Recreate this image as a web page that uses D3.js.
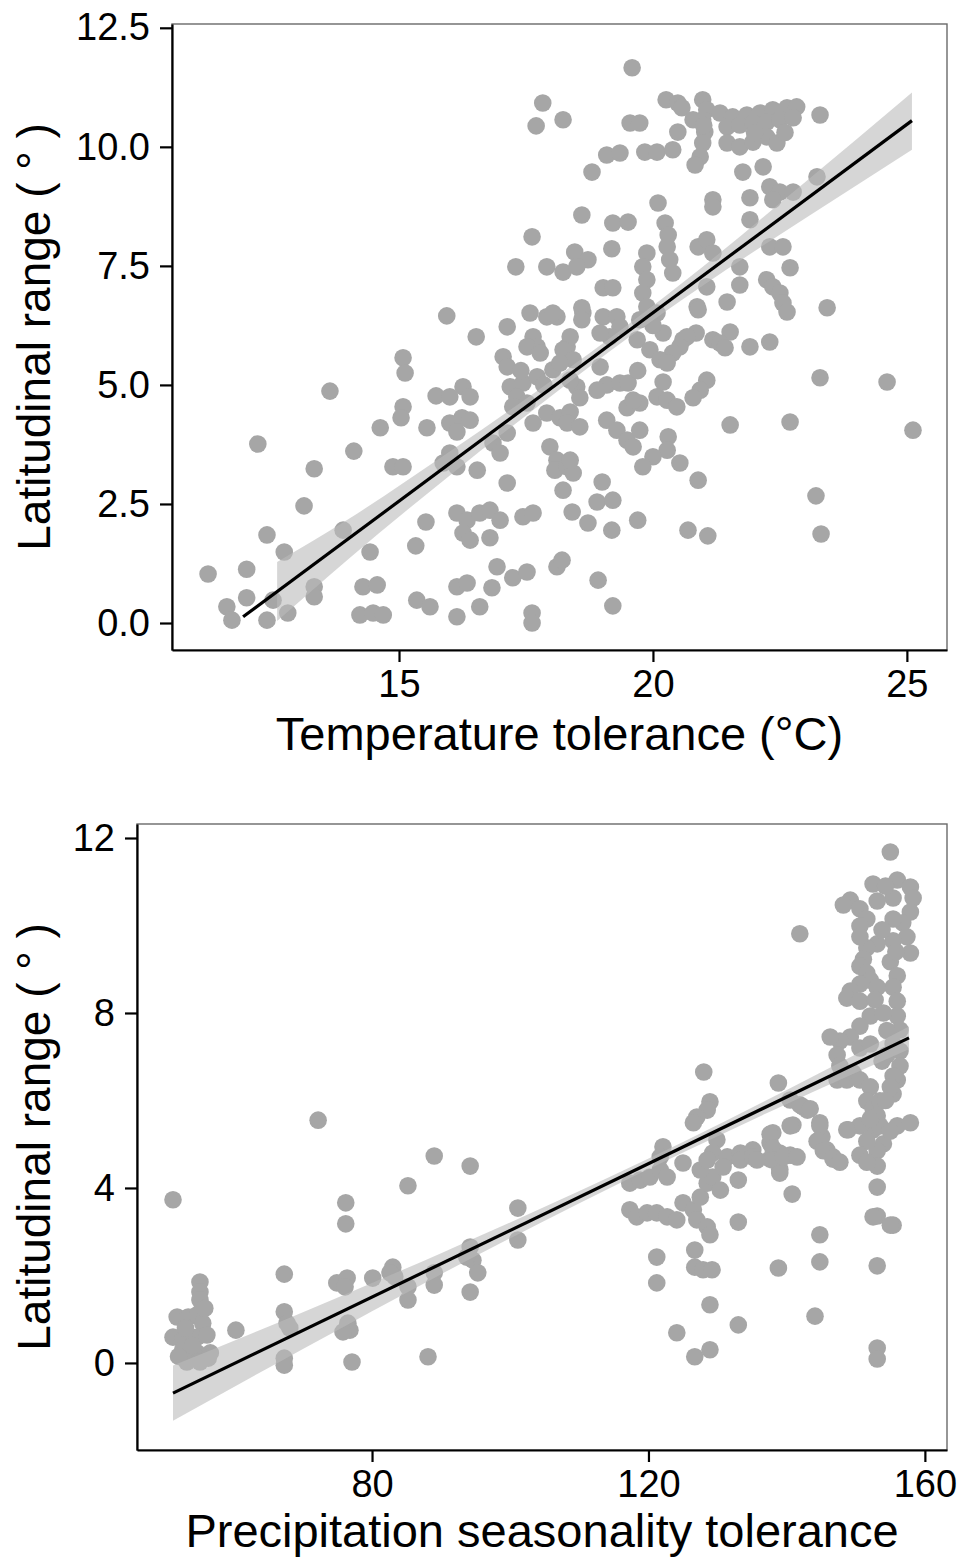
<!DOCTYPE html>
<html>
<head>
<meta charset="utf-8">
<script src="https://cdn.jsdelivr.net/npm/d3@7"></script>
<style>
    body { margin: 0; background: #fff; }
    svg text { font-family: "Liberation Sans", Arial, sans-serif; fill: #000; }
</style>
</head>
<body>
<div id="chart"></div>
<script>
// Top panel: temperature tolerance vs latitudinal range
const tempPoints = [
    [11.24,1.03],[12.00,1.13],[11.61,0.34],[11.71,0.06],[12.00,0.53],[12.40,0.06],[12.40,1.85],[12.74,1.49],[12.81,0.21],[12.52,0.48],
    [12.22,3.76],[13.13,2.46],[13.33,3.24],[13.33,0.76],[13.33,0.55],[13.64,4.87],[13.90,1.95],[14.11,3.61],[14.43,1.49],[14.29,0.76],
    [14.57,0.80],[14.23,0.17],[14.49,0.21],[14.69,0.17],[14.63,4.10],[14.88,3.28],[15.08,3.28],[15.08,5.57],[15.12,5.25],[15.08,4.54],
    [15.04,4.31],[15.55,4.10],[15.53,2.12],[15.33,1.62],[15.35,0.48],[15.61,0.34],[15.73,4.77],[16.00,4.75],[16.26,4.96],[16.40,4.75],
    [16.00,4.20],[16.24,4.31],[16.40,4.26],[16.14,4.01],[16.00,3.57],[16.14,3.28],[15.87,3.36],[16.52,6.01],[16.54,3.21],[16.14,0.13],
    [16.14,2.31],[16.34,2.16],[16.26,1.89],[16.40,1.74],[16.59,2.31],[16.79,2.37],[16.99,2.16],[16.79,1.79],[16.93,1.18],[16.59,0.34],
    [16.83,0.74],[17.24,0.95],[17.52,1.07],[17.44,2.23],[17.64,2.31],[17.62,0.21],[17.62,0.00],[17.13,2.94],[17.05,5.59],[17.13,5.38],
    [17.13,6.22],[17.64,6.01],[17.72,5.80],[17.52,5.80],[17.78,5.67],[17.19,4.96],[17.44,5.04],[17.72,5.17],[18.03,5.32],[17.32,4.75],
    [17.52,4.62],[17.24,4.54],[16.85,3.78],[17.13,3.99],[16.99,3.57],[17.91,4.41],[17.64,4.20],[17.97,3.70],[18.11,3.42],[18.07,3.21],
    [18.17,4.31],[18.37,4.43],[18.31,4.20],[18.56,4.12],[18.31,3.28],[18.43,3.15],[18.23,2.79],[18.11,1.18],[15.94,6.45],[17.58,6.51],
    [17.91,6.43],[18.11,6.43],[17.83,10.92],[17.70,10.44],[18.23,10.57],[18.80,9.47],[19.09,9.83],[19.35,9.87],[19.55,10.50],[19.74,10.50],
    [19.84,9.89],[20.08,9.89],[20.39,9.94],[20.49,10.31],[20.26,10.99],[20.49,10.92],[20.57,10.82],[20.98,10.99],[21.06,10.78],[20.98,10.57],
    [21.02,10.31],[20.98,10.08],[20.93,9.79],[20.83,9.62],[20.79,10.57],[21.32,10.71],[21.57,10.63],[21.85,10.67],[22.11,10.71],[22.36,10.78],
    [22.64,10.82],[22.83,10.84],[21.46,10.42],[21.71,10.46],[21.97,10.50],[22.24,10.52],[22.50,10.57],[22.76,10.61],[21.46,10.08],[21.71,10.00],
    [21.97,10.10],[22.24,10.21],[22.44,10.08],[23.29,10.67],[21.77,9.47],[22.17,9.58],[21.18,8.89],[21.18,8.74],[21.91,8.93],[22.30,9.16],
    [22.50,9.05],[22.76,9.05],[22.36,8.89],[23.23,9.37],[21.91,8.47],[19.59,11.66],[20.10,8.82],[18.60,8.57],[19.21,8.40],[19.51,8.42],
    [17.62,8.11],[19.19,7.86],[20.24,8.40],[20.30,8.15],[20.28,7.90],[20.33,7.63],[20.39,7.35],[18.46,7.79],[18.72,7.63],[17.91,7.48],
    [18.23,7.37],[18.50,7.48],[17.30,7.48],[19.88,7.77],[19.80,7.48],[19.88,7.21],[19.80,6.93],[19.88,6.64],[19.74,6.37],[19.02,7.04],
    [19.21,7.04],[20.89,7.90],[21.06,8.05],[21.18,7.77],[22.30,7.90],[22.56,7.90],[21.71,7.48],[22.70,7.46],[21.71,7.10],[22.24,7.21],
    [22.36,7.06],[22.50,6.93],[22.56,6.72],[22.64,6.53],[23.43,6.62],[21.46,6.74],[20.87,6.64],[21.06,7.06],[18.03,6.51],[18.62,6.51],
    [19.02,6.43],[19.29,6.43],[19.35,6.22],[19.15,6.01],[18.96,6.09],[18.31,5.80],[18.60,6.62],[18.60,6.37],[20.20,6.09],[20.08,6.51],
    [20.59,5.95],[20.85,6.09],[21.18,5.95],[20.89,6.58],[21.52,6.11],[21.32,5.88],[21.42,5.78],[21.91,5.80],[22.30,5.90],[20.67,6.01],
    [20.53,5.80],[20.39,5.67],[19.69,5.95],[19.94,5.74],[20.14,5.53],[20.28,5.46],[18.37,6.01],[18.23,5.74],[18.43,5.53],[18.17,5.46],
    [18.96,5.38],[21.06,5.10],[20.93,4.89],[20.79,4.73],[20.20,5.06],[20.08,4.75],[20.28,4.68],[20.47,4.54],[19.74,4.62],[19.49,4.52],
    [19.61,4.68],[19.09,5.00],[18.90,4.89],[19.35,5.04],[19.51,5.04],[18.50,4.96],[18.56,4.73],[18.37,5.10],[19.09,4.26],[19.29,4.05],
    [19.49,3.84],[19.61,3.70],[19.74,4.05],[18.37,3.42],[20.30,3.91],[20.28,3.63],[20.53,3.36],[20.00,3.49],[19.80,3.28],[21.52,4.16],
    [22.70,4.22],[23.29,5.15],[24.61,5.06],[25.12,4.05],[20.89,3.00],[19.00,2.96],[18.90,2.54],[19.21,2.58],[18.41,2.33],[18.72,2.10],
    [19.19,1.95],[19.70,2.16],[20.69,1.95],[21.08,1.83],[23.21,2.67],[23.31,1.87],[18.21,1.32],[18.92,0.90],[19.21,0.36],[16.14,0.76],
    [16.34,0.84],[17.40,5.30],[17.85,5.00],[19.70,5.30],[20.00,6.25],[21.00,10.45],[22.00,10.30],[22.60,10.30]
];
const tempFitX = [11.93, 25.1];
const tempFitY = [0.13, 10.55];
const tempBandX = [12.6, 14, 16, 18, 19.5, 21, 23, 25.1];
const tempBandLow = [0.04, 1.34, 3.10, 4.77, 5.98, 7.10, 8.50, 9.94];
const tempBandHigh = [1.28, 2.18, 3.60, 5.09, 6.26, 7.50, 9.26, 11.14];
const tempXTicks = [15, 20, 25];
const tempYTicks = [0, 2.5, 5, 7.5, 10, 12.5];

// Bottom panel: precipitation seasonality tolerance vs latitudinal range
const precPoints = [
    [51.2,3.73],[76.2,3.66],[76.2,3.18],[85.2,4.05],[89.0,4.73],[94.2,4.50],[101.1,3.54],[101.1,2.81],[72.2,5.55],
    [55.1,1.85],[55.1,1.62],[55.1,1.44],
    [51.8,1.05],[53.4,1.05],[54.7,1.10],[55.5,0.91],[51.2,0.59],[52.6,0.53],[54.7,0.59],[56.1,0.64],[52.6,0.30],[54.7,0.23],[56.6,0.23],[53.2,0.02],[55.1,0.02],[56.3,0.11],
    [53.0,0.80],[55.8,1.25],[52.0,0.15],[54.0,0.40],
    [60.3,0.75],[67.3,2.03],[67.3,1.17],[67.7,0.91],[68.1,0.80],[67.3,0.11],[67.3,-0.05],
    [74.9,1.83],[76.4,1.94],[76.1,1.74],[76.5,0.91],[76.8,0.75],[75.8,0.71],[77.1,0.02],
    [80.1,1.94],[83.0,2.19],[83.3,1.97],[82.6,2.06],[85.2,1.74],[85.2,1.44],[88.1,0.14],[89.0,2.06],[89.0,1.78],
    [94.2,2.65],[94.6,2.35],[95.3,2.06],[93.7,2.42],[94.2,1.62],
    [155.0,11.68],[141.9,9.81],[128.0,6.65],[138.8,6.40],
    [128.9,5.97],[128.5,5.78],[127.0,5.62],[126.5,5.49],[122.1,4.94],[121.7,4.71],
    [140.5,6.01],[142.4,5.85],[143.0,5.78],[140.9,5.44],[138.0,5.26],[137.6,5.03],[139.0,4.80],
    [144.8,5.49],[145.1,5.17],[145.8,4.87],[146.7,4.71],[148.9,5.33],
    [129.9,5.10],[129.3,4.80],[131.4,4.71],[133.3,4.80],[135.1,4.87],
    [152.5,10.95],[156.0,11.04],[157.9,10.88],[158.3,10.63],[155.4,10.63],[153.1,10.56],[149.2,10.58],[148.2,10.47],[150.6,10.38],
    [157.9,10.31],[156.8,10.06],[155.4,10.15],[151.6,10.15],[150.6,9.99],
    [157.4,9.74],[155.4,9.65],[153.1,9.58],[151.6,9.49],[150.6,9.74],
    [157.9,9.37],[151.1,9.23],[150.6,9.07],[151.6,8.91],[152.1,8.75],
    [155.0,9.17],[156.0,8.85],[155.4,8.59],[153.1,8.59],[150.6,8.66],[149.2,8.50],[148.7,8.34],[150.6,8.27],
    [156.0,8.27],[156.0,7.93],[156.4,7.61],[155.4,7.29],[154.5,7.04],
    [152.1,7.93],[150.6,7.70],[149.2,7.45],[147.7,7.36],[146.3,7.45],[147.3,7.04],[150.6,7.20],[152.1,7.29],
    [156.4,7.13],[156.4,6.79],[156.0,6.47],[155.4,6.15],
    [147.7,6.79],[147.3,6.47],[148.7,6.47],[149.6,6.63],
    [150.6,6.47],[152.1,6.31],[151.6,5.99],[152.5,5.81],
    [155.4,6.56],[155.0,6.31],
    [153.5,5.99],[153.1,5.65],[152.5,5.33],[153.5,5.42],[154.0,5.01],[153.1,4.85],[153.1,4.50],
    [150.6,5.42],[151.6,5.07],[152.1,5.58],
    [156.0,5.42],[157.9,5.49],
    [150.6,4.75],[151.6,4.59],
    [153.1,4.02],[153.1,3.36],[155.4,3.15],[153.1,2.22],[153.1,0.34],[153.1,0.09],
    [154.5,7.60],[154.0,8.00],[153.8,6.90],[154.3,6.00],[155.0,5.30],[152.8,8.30],[153.8,9.90],[154.3,10.90],[155.8,9.40],
    [141.9,5.90],[143.4,5.81],[140.5,5.42],[137.6,5.23],[138.0,4.91],[137.6,4.66],[139.0,4.75],[140.5,4.75],[139.0,4.43],[140.8,3.86],
    [144.8,5.42],[144.4,5.07],[145.3,4.85],[146.7,4.66],[147.7,4.59],[148.7,5.33],
    [144.8,2.93],[144.8,2.31],[138.8,2.17],[144.1,1.07],
    [121.2,2.42],[121.2,1.83],[124.1,0.69],[126.7,2.58],[126.7,2.19],[127.9,2.13],[129.2,2.13],[128.9,1.33],[126.7,0.14],[128.9,0.30],
    [133.0,0.87],[133.0,3.22],[133.0,4.18],[152.5,3.34],[155.0,3.15],
    [117.3,4.11],[118.8,4.18],[120.2,4.25],[121.7,4.41],[122.7,4.25],[117.3,3.50],[118.3,3.34],[119.8,3.43],[121.2,3.43],[122.7,3.34],[124.1,3.27],
    [125.0,3.66],[126.5,3.50],[127.5,3.79],[128.5,4.11],[129.3,4.25],[130.4,3.95],[127.0,3.27],[128.5,3.11],[128.9,2.93],
    [130.8,4.48],[133.3,4.64],[135.1,4.71],[127.5,4.41],[138.0,4.64],[139.0,4.34],
    [125.0,4.57],[128.5,4.64],[135.7,4.64],[139.5,4.71],[141.5,4.71]
];
const precFitX = [51.2, 157.7];
const precFitY = [-0.69, 7.43];
const precBandX = [51.2, 70, 90, 110, 125, 140, 157.7];
const precBandLow = [-1.32, 0.32, 2.03, 3.65, 4.81, 5.92, 7.17];
const precBandHigh = [-0.06, 1.16, 2.51, 3.93, 5.05, 6.24, 7.69];
const precXTicks = [80, 120, 160];
const precYTicks = [0, 4, 8, 12];

const yTitle = "Latitudinal range ( ° )";

const panels = [
    {
        points: tempPoints, fitX: tempFitX, fitY: tempFitY,
        bandX: tempBandX, bandLow: tempBandLow, bandHigh: tempBandHigh,
        xTicks: tempXTicks, yTicks: tempYTicks, yFormat: d3.format(".1f"),
        xDomain: [10.53, 25.79], yDomain: [-0.567, 12.58],
        left: 172, right: 947, top: 24, bottom: 650,
        xTitle: "Temperature tolerance (°C)", xTitleY: 750
    },
    {
        points: precPoints, fitX: precFitX, fitY: precFitY,
        bandX: precBandX, bandLow: precBandLow, bandHigh: precBandHigh,
        xTicks: precXTicks, yTicks: precYTicks, yFormat: d3.format("d"),
        xDomain: [45.99, 163.2], yDomain: [-1.99, 12.32],
        left: 137, right: 947, top: 824, bottom: 1450,
        xTitle: "Precipitation seasonality tolerance", xTitleY: 1547
    }
];

const svg = d3.select("#chart")
    .append("svg")
    .attr("width", 977)
    .attr("height", 1558);

panels.forEach(p => drawPanel(p));

function drawPanel(p) {
    const x = d3.scaleLinear().domain(p.xDomain).range([p.left, p.right]);
    const y = d3.scaleLinear().domain(p.yDomain).range([p.bottom, p.top]);
    const g = svg.append("g");

    // thin box round the plot
    g.append("rect")
        .attr("x", p.left).attr("y", p.top)
        .attr("width", p.right - p.left).attr("height", p.bottom - p.top)
        .attr("fill", "none")
        .attr("stroke", "#6a6a6a")
        .attr("stroke-width", 1.4);

    // points
    g.append("g")
        .selectAll("circle")
        .data(p.points)
        .join("circle")
        .attr("cx", d => x(d[0]))
        .attr("cy", d => y(d[1]))
        .attr("r", 8.8)
        .attr("fill", "#a6a6a6");

    // confidence band
    const band = p.bandX.map((v, i) => [v, p.bandLow[i], p.bandHigh[i]]);
    const area = d3.area()
        .x(d => x(d[0]))
        .y0(d => y(d[1]))
        .y1(d => y(d[2]))
        .curve(d3.curveMonotoneX);
    g.append("path")
        .datum(band)
        .attr("d", area)
        .attr("fill", "#bbbbbb")
        .attr("opacity", 0.6);

    // fitted line
    const fit = p.fitX.map((v, i) => [v, p.fitY[i]]);
    g.append("path")
        .datum(fit)
        .attr("d", d3.line().x(d => x(d[0])).y(d => y(d[1])))
        .attr("fill", "none")
        .attr("stroke", "#000")
        .attr("stroke-width", 3.2);

    // axes
    const xAxis = g.append("g")
        .attr("transform", `translate(0,${p.bottom})`)
        .call(d3.axisBottom(x).tickValues(p.xTicks).tickSize(12).tickSizeOuter(0).tickPadding(8).tickFormat(d3.format("d")));
    const yAxis = g.append("g")
        .attr("transform", `translate(${p.left},0)`)
        .call(d3.axisLeft(y).tickValues(p.yTicks).tickSize(12).tickSizeOuter(0).tickPadding(10).tickFormat(p.yFormat));

    [xAxis, yAxis].forEach(a => {
        a.attr("font-family", null).attr("font-size", null);
        a.selectAll("path, line").attr("stroke", "#000").attr("stroke-width", 2.2);
        a.selectAll("text").style("font-size", "38px");
    });

    // titles
    g.append("text")
        .attr("x", (p.left + p.right) / 2)
        .attr("y", p.xTitleY)
        .attr("text-anchor", "middle")
        .style("font-size", "47px")
        .text(p.xTitle);

    g.append("text")
        .attr("transform", `translate(50,${(p.top + p.bottom) / 2}) rotate(-90)`)
        .attr("text-anchor", "middle")
        .style("font-size", "46px")
        .text(yTitle);
}
</script>
</body>
</html>
